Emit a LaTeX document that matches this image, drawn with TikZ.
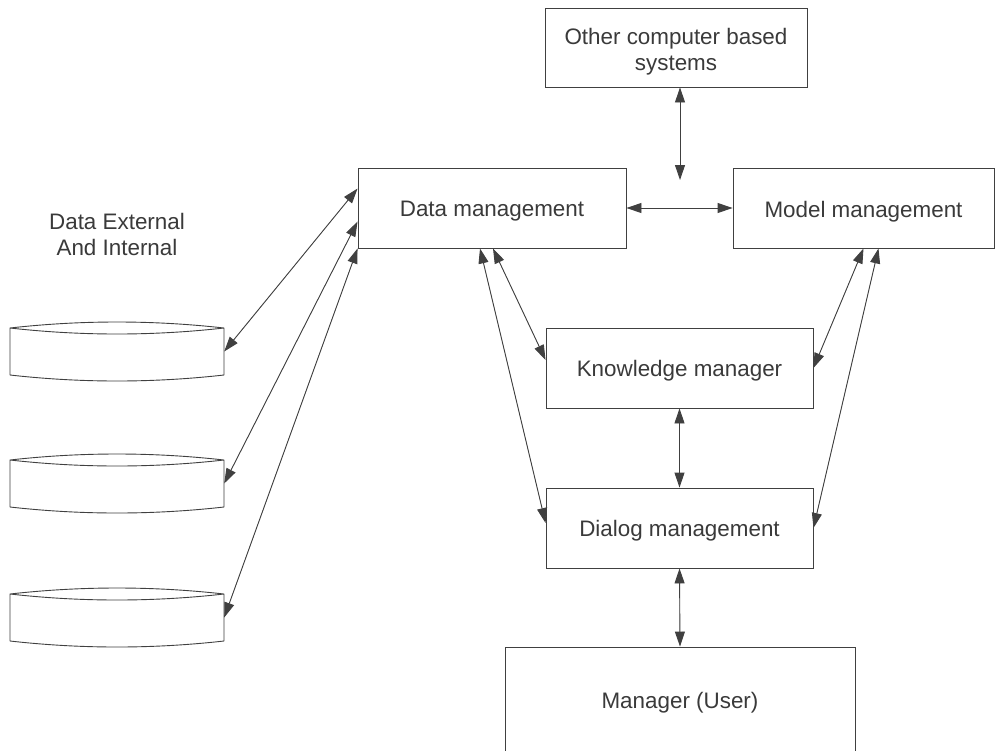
\documentclass[tikz,border=0pt]{standalone}
\usepackage{fontspec}
\setmainfont{Liberation Sans}
\usetikzlibrary{arrows.meta}
\definecolor{ink}{HTML}{404040}
\definecolor{txt}{HTML}{3A3A3A}
\newcommand\lowertxt[2][3.5pt]{\raisebox{-#1}[\height][\depth]{#2}}
\tikzset{
  ln/.style={draw=ink, line width=0.9pt},
  boxnode/.style={ln, rectangle, inner sep=0pt, align=center, text=txt,
    font=\fontsize{22.4}{26}\selectfont},
  drum/.style={rectangle, draw=none, inner sep=0pt, minimum width=214pt, minimum height=59pt},
  lbl/.style={align=center, text=txt, font=\fontsize{22.4}{26}\selectfont},
  arr/.style={ln, {Triangle[length=15pt,width=10pt]}-{Triangle[length=15pt,width=10pt]}, fill=ink}
}
\begin{document}
\begin{tikzpicture}[x=1pt,y=-1pt]
\clip (0,0) rectangle (995,750);
\fill[white] (0,0) rectangle (995,750);

% boxes
\node[boxnode, minimum width=262pt, minimum height=79pt] (other) at (676,47.5)
  {\lowertxt[5pt]{\begin{tabular}{@{}c@{}}Other computer based\\systems\end{tabular}}};
\node[boxnode, minimum width=268pt, minimum height=80pt] (data) at (492,208) {\lowertxt{Data management}};
\node[boxnode, minimum width=261pt, minimum height=80pt] (model) at (863.5,208) {\lowertxt{Model management}};
\node[boxnode, minimum width=267pt, minimum height=80pt] (know) at (679.5,368) {\lowertxt[2.5pt]{Knowledge manager}};
\node[boxnode, minimum width=267pt, minimum height=80pt] (dialog) at (679.5,528) {\lowertxt[3pt]{Dialog management}};
\node[boxnode, minimum width=350pt, minimum height=106pt] (user) at (680,700) {\lowertxt[3pt]{Manager (User)}};

\node[lbl] (ext) at (117,234) {Data External\\And Internal};

% drums
\foreach \i/\t in {1/322,2/454,3/588}{
  \node[drum] (c\i) at (117,\t+29.5) {};
  \draw[ln, line join=round] (10,\t+6) .. controls (81.3,\t-2) and (152.7,\t-2) .. (224,\t+6)
    .. controls (152.7,\t+14) and (81.3,\t+14) .. (10,\t+6)
    -- (10,\t+53) .. controls (81.3,\t+61) and (152.7,\t+61) .. (224,\t+53)
    -- (224,\t+6);
}

\coordinate (jn) at (680,180);

% connectors
\draw[arr] (data.east) -- (model.west);
\draw[arr] (other.south -| jn) -- (jn);
\draw[arr] (c1.east) -- ([yshift=-21pt]data.north west);
\draw[arr] (c2.east) -- ([yshift=-54pt]data.north west);
\draw[arr] (c3.east) -- (data.south west);
\draw[arr] ([xshift=1pt]data.south) -- ([yshift=8pt]know.west);
\draw[arr] ([xshift=-12pt]data.south) -- ([yshift=5pt]dialog.west);
\draw[arr] (model.south) -- (know.east);
\draw[arr] ([xshift=15pt]model.south) -- (dialog.east);
\draw[arr] (know.south) -- (dialog.north);
\draw[arr] (dialog.south) -- (user.north);
\end{tikzpicture}
\end{document}
